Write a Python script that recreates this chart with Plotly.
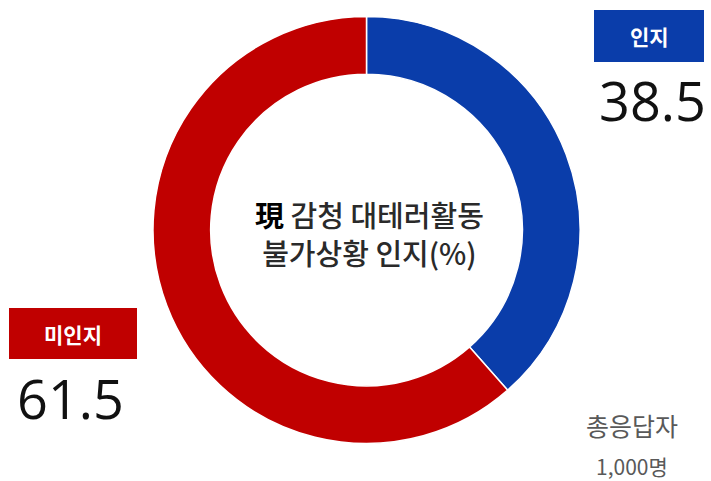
import plotly.graph_objects as go

W, H = 711, 481

labels = ["인지", "미인지"]
values = [38.5, 61.5]
colors = ["#0A3DAA", "#C00000"]
center_title = ["現", "감청 대테러활동", "불가상황 인지(%)"]
note_lines = ["총응답자", "1,000명"]

KFONT = "Noto Sans CJK KR"

def px(x):
    return x / W

def py(y):
    return 1 - y / H

fig = go.Figure()
fig.add_trace(go.Pie(
    labels=labels,
    values=values,
    hole=0.73,
    sort=False,
    direction="clockwise",
    rotation=0,
    marker=dict(colors=colors, line=dict(color="white", width=1.5)),
    textinfo="none",
    hoverinfo="label+value",
    showlegend=False,
    domain=dict(x=[px(153), px(580)], y=[py(445), py(15)]),
))

# label boxes
boxes = [
    dict(x0=594, x1=704, y0=10, y1=62, color=colors[0]),
    dict(x0=9, x1=137, y0=308, y1=359, color=colors[1]),
]
shapes = []
for b in boxes:
    shapes.append(dict(type="rect", xref="paper", yref="paper",
                       x0=px(b["x0"]), x1=px(b["x1"]), y0=py(b["y1"]), y1=py(b["y0"]),
                       fillcolor=b["color"], line=dict(width=0), layer="above"))

annotations = []
# box labels & values
pos = [
    dict(bx=(594 + 704) / 2, by=36, vx=652, vy=100),
    dict(bx=(9 + 137) / 2, by=334, vx=70, vy=398),
]
for i, p in enumerate(pos):
    annotations.append(dict(x=px(p["bx"]), y=py(p["by"]), xref="paper", yref="paper",
                            text="<b>%s</b>" % labels[i], showarrow=False,
                            font=dict(family=KFONT, size=21, color="white"),
                            xanchor="center", yanchor="middle"))
    annotations.append(dict(x=px(p["vx"]), y=py(p["vy"]), xref="paper", yref="paper",
                            text="%.1f" % values[i], showarrow=False,
                            font=dict(family="Open Sans", size=54, color="#111111"),
                            xanchor="center", yanchor="middle"))

# center title
annotations.append(dict(x=px(369), y=py(233), xref="paper", yref="paper",
                        text="<span style='color:#000000'><b>%s</b></span> %s<br>%s" % tuple(center_title),
                        showarrow=False, align="center",
                        font=dict(family=KFONT, size=29, color="#2a2a2a", weight=500),
                        xanchor="center", yanchor="middle"))

# respondents note
annotations.append(dict(x=px(632), y=py(425), xref="paper", yref="paper",
                        text=note_lines[0], showarrow=False,
                        font=dict(family=KFONT, size=25, color="#595959"),
                        xanchor="center", yanchor="middle"))
annotations.append(dict(x=px(632), y=py(466), xref="paper", yref="paper",
                        text=note_lines[1], showarrow=False,
                        font=dict(family=KFONT, size=21, color="#595959"),
                        xanchor="center", yanchor="middle"))

fig.update_layout(
    width=W, height=H,
    margin=dict(l=0, r=0, t=0, b=0),
    paper_bgcolor="white", plot_bgcolor="white",
    shapes=shapes, annotations=annotations,
)

fig.write_html("out.html", config={"displayModeBar": False})
